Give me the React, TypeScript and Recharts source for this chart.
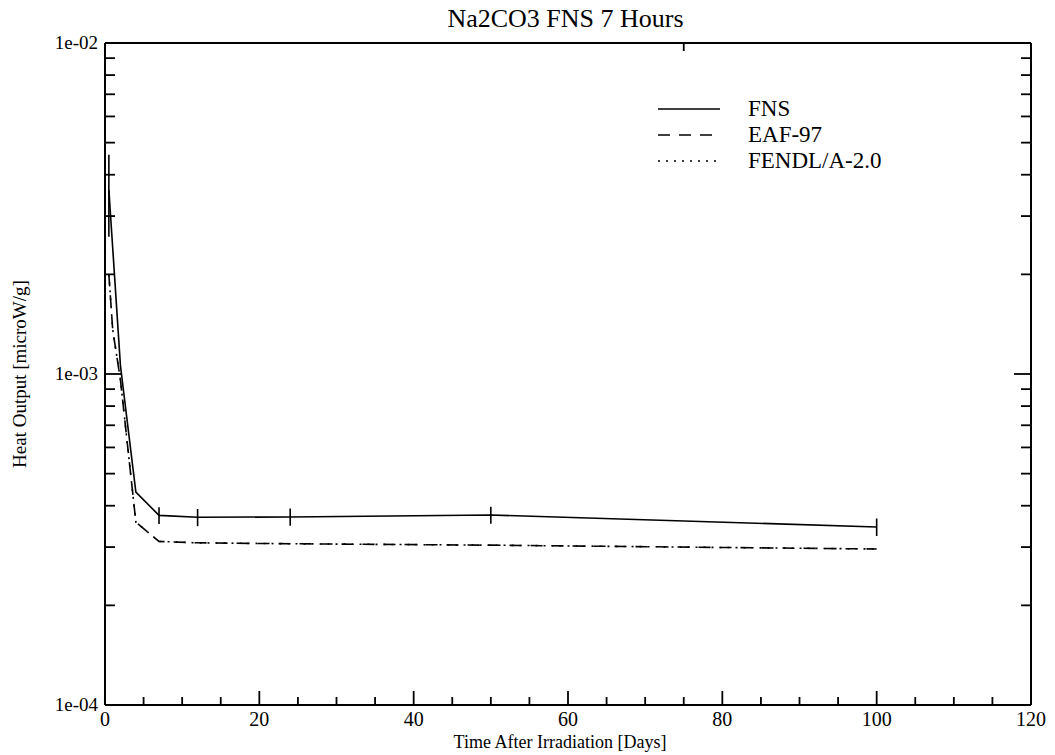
import React from 'react'
import { LineChart, Line, XAxis, YAxis, ErrorBar, Legend } from 'recharts'

// cooling times [days] and heat output [microW/g]
const days = [0.5, 1, 2, 4, 7, 12, 24, 50, 100]
const fns = [3.6e-3, 2.4e-3, 1.06e-3, 4.4e-4, 3.74e-4, 3.69e-4, 3.7e-4, 3.75e-4, 3.45e-4]
const fnsErr = [1.0e-3, 0, 0, 0, 2.2e-5, 2.2e-5, 2.2e-5, 2.2e-5, 2.1e-5]
const eaf97 = [2.0e-3, 1.36e-3, 9.6e-4, 3.57e-4, 3.12e-4, 3.09e-4, 3.07e-4, 3.04e-4, 2.96e-4]
const fendl = [2.0e-3, 1.36e-3, 9.6e-4, 3.57e-4, 3.12e-4, 3.09e-4, 3.07e-4, 3.04e-4, 2.96e-4]

const xTicks = Array.from({ length: 25 }, (_, i) => i * 5)
const xMajor = [0, 20, 40, 60, 80, 100, 120]
const yTicks = [-4, -3].flatMap(e => [1, 2, 3, 4, 5, 6, 7, 8, 9].map(m => m * Math.pow(10, e))).concat([1e-2])
const yMajor = [1e-4, 1e-3, 1e-2]

const SERIES = [
  { key: 'fns', name: 'FNS', dash: undefined as string | undefined },
  { key: 'eaf', name: 'EAF-97', dash: '12 9' },
  { key: 'fendl', name: 'FENDL/A-2.0', dash: '2 6' },
]

const data = days.map((d, i) => ({
  day: d,
  fns: fns[i],
  fnsErr: fnsErr[i],
  eaf: eaf97[i],
  fendl: fendl[i],
}))

const FONT = '"Liberation Serif", "DejaVu Serif", serif'
const isMajorY = (v: number) => yMajor.some(m => Math.abs(m - v) / m < 1e-6)
const fmtY = (v: number) => {
  const e = Math.round(Math.log10(v))
  return `1e${e < 0 ? '-' : '+'}${String(Math.abs(e)).padStart(2, '0')}`
}

function makeXTick(side: 'bottom' | 'top') {
  return (props: any) => {
    const { x, y, payload } = props
    const major = xMajor.includes(payload.value)
    const len = major ? 14 : 8
    const s = side === 'bottom' ? -1 : 1
    return (
      <g>
        <line x1={x} x2={x} y1={y} y2={y + s * len} stroke="#000" strokeWidth={1.8} />
        {side === 'bottom' && major && (
          <text x={x} y={y + 21} textAnchor="middle" fontSize={20} fontFamily={FONT} fill="#000">
            {payload.value}
          </text>
        )}
      </g>
    )
  }
}

function makeYTick(side: 'left' | 'right') {
  return (props: any) => {
    const { x, y, payload } = props
    const major = isMajorY(payload.value)
    const len = major ? 17 : 10
    const s = side === 'left' ? 1 : -1
    return (
      <g>
        <line x1={x} x2={x + s * len} y1={y} y2={y} stroke="#000" strokeWidth={1.8} />
        {side === 'left' && major && (
          <text x={x - 7} y={y + 6} textAnchor="end" fontSize={19} fontFamily={FONT} fill="#000">
            {fmtY(payload.value)}
          </text>
        )}
      </g>
    )
  }
}

function LegendBox() {
  return (
    <svg width={300} height={90}>
      {SERIES.map((s, i) => (
        <g key={s.key}>
          <line x1={0} x2={62} y1={14 + i * 26} y2={14 + i * 26} stroke="#000" strokeWidth={1.5} strokeDasharray={s.dash} />
          <text x={90} y={21 + i * 26} fontSize={23} fontFamily={FONT} fill="#000">{s.name}</text>
        </g>
      ))}
    </svg>
  )
}

export default function App() {
  return (
    <div style={{ position: 'absolute', left: 0, top: 0, width: 1055, height: 755, background: '#fff', fontFamily: FONT }}>
      <div style={{ position: 'absolute', left: 0, width: 1131, top: 4, textAlign: 'center', fontSize: 26 }}>
        Na2CO3 FNS 7 Hours
      </div>
      <div style={{ position: 'absolute', left: 90, width: 940, top: 732, textAlign: 'center', fontSize: 18, lineHeight: '20px' }}>
        Time After Irradiation [Days]
      </div>
      <div
        style={{
          position: 'absolute', left: 20, top: 374, fontSize: 19, whiteSpace: 'nowrap',
          transform: 'translate(-50%, -50%) rotate(-90deg)',
        }}
      >
        Heat Output [microW/g]
      </div>
      <LineChart width={1055} height={755} data={data} margin={{ top: 42, right: 23, bottom: 49, left: 104 }}>
        <XAxis
          xAxisId={0} dataKey="day" type="number" domain={[0, 120]} ticks={xTicks} interval={0}
          height={1} tickSize={0} tickMargin={0} tick={makeXTick('bottom')}
          axisLine={{ stroke: '#000', strokeWidth: 2 }} allowDataOverflow
        />
        <XAxis
          xAxisId="top" orientation="top" type="number" domain={[0, 120]} ticks={xTicks} interval={0}
          height={1} tickSize={0} tickMargin={0} tick={makeXTick('top')}
          axisLine={{ stroke: '#000', strokeWidth: 2 }} allowDataOverflow
        />
        <YAxis
          yAxisId={0} type="number" scale="log" domain={[1e-4, 1e-2]} ticks={yTicks} interval={0}
          width={1} tickSize={0} tickMargin={0} tick={makeYTick('left')}
          axisLine={{ stroke: '#000', strokeWidth: 2 }} allowDataOverflow
        />
        <YAxis
          yAxisId="right" orientation="right" type="number" scale="log" domain={[1e-4, 1e-2]} ticks={yTicks} interval={0}
          width={1} tickSize={0} tickMargin={0} tick={makeYTick('right')}
          axisLine={{ stroke: '#000', strokeWidth: 2 }} allowDataOverflow
        />
        <Legend
          layout="vertical" align="center" verticalAlign="middle"
          content={() => <LegendBox />}
          wrapperStyle={{ position: 'absolute', left: 658, top: 95, width: 300 }}
        />
        <Line dataKey="fendl" name="FENDL/A-2.0" stroke="#000" strokeWidth={1.6} strokeDasharray="2 6" dot={false} isAnimationActive={false} />
        <Line dataKey="eaf" name="EAF-97" stroke="#000" strokeWidth={1.6} strokeDasharray="12 9" dot={false} isAnimationActive={false} />
        <Line dataKey="fns" name="FNS" stroke="#000" strokeWidth={1.6} dot={false} isAnimationActive={false}>
          <ErrorBar dataKey="fnsErr" width={0} stroke="#000" strokeWidth={1.6} direction="y" />
        </Line>
      </LineChart>
    </div>
  )
}
